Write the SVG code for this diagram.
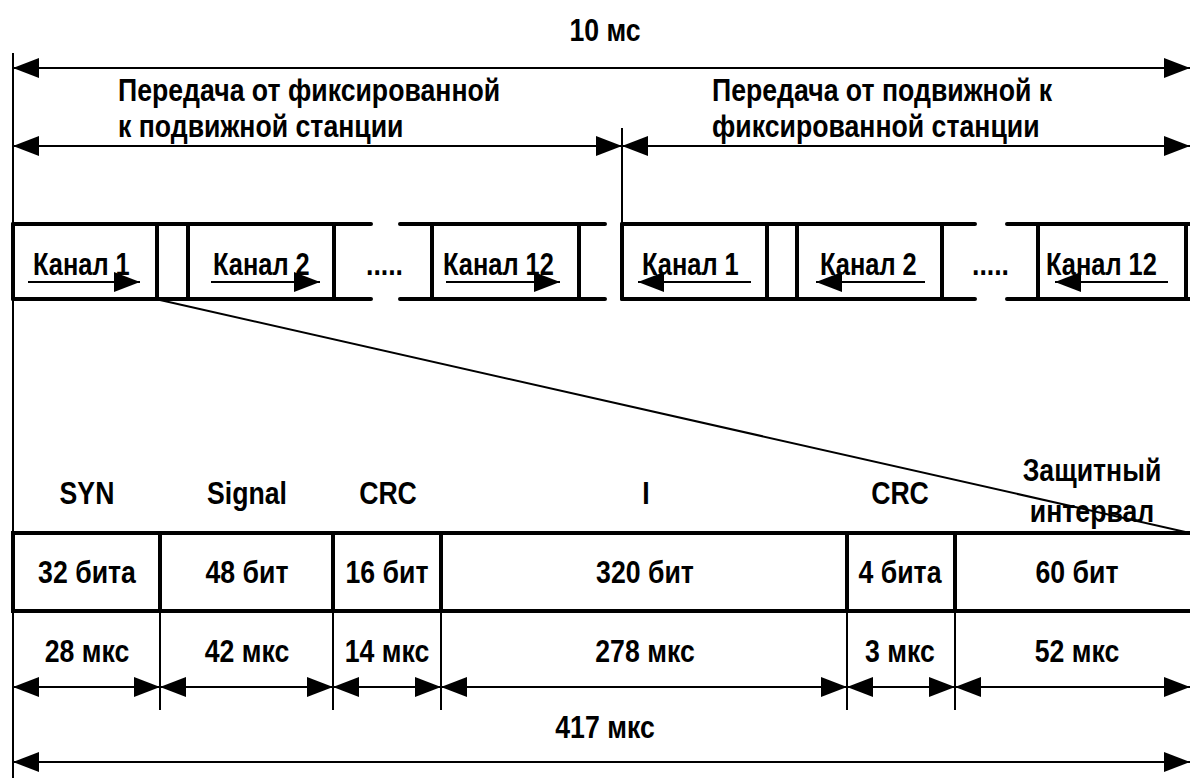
<svg xmlns="http://www.w3.org/2000/svg" width="1190" height="778" viewBox="0 0 1190 778">
<style>
text{font-family:"Liberation Sans",Arial,sans-serif;font-weight:bold;font-size:31px;fill:#000}
.m{text-anchor:middle}
.thin{stroke:#000;stroke-width:2;fill:none}
.thick{stroke:#000;stroke-width:4;fill:none;stroke-linecap:round}
.arr{stroke:#000;stroke-width:2;fill:none;marker-start:url(#ah);marker-end:url(#ah)}
.arr1{stroke:#000;stroke-width:2;fill:none;marker-end:url(#ah)}
</style>
<defs>
<marker id="ah" markerUnits="userSpaceOnUse" markerWidth="26" markerHeight="20" refX="26" refY="10" orient="auto-start-reverse" viewBox="0 0 26 20">
<path d="M0,0 L26,10 L0,20 Z" fill="#000"/>
</marker>
</defs>
<rect width="1190" height="778" fill="#fff"/>

<g id="connectors">
<line class="thin" x1="13" y1="53" x2="13" y2="778"/>
<line class="arr" x1="13" y1="68" x2="1190" y2="68"/>
<line class="arr" x1="13" y1="146" x2="622" y2="146"/>
<line class="arr" x1="622" y1="146" x2="1190" y2="146"/>
<line class="thin" x1="622" y1="128" x2="622" y2="224"/>
<line class="thin" x1="160" y1="300" x2="1190" y2="533"/>
<line class="arr" x1="13" y1="687" x2="160" y2="687"/>
<line class="arr" x1="160" y1="687" x2="333" y2="687"/>
<line class="arr" x1="333" y1="687" x2="441" y2="687"/>
<line class="arr" x1="441" y1="687" x2="847" y2="687"/>
<line class="arr" x1="847" y1="687" x2="955" y2="687"/>
<line class="arr" x1="955" y1="687" x2="1190" y2="687"/>
<line class="arr" x1="13" y1="762" x2="1190" y2="762"/>
</g>

<g id="labels-top">
<text class="m" transform="translate(605 41) scale(0.86 1)">10 мс</text>
<text transform="translate(118 101) scale(0.86 1)">Передача от фиксированной</text>
<text transform="translate(118 137) scale(0.86 1)">к подвижной станции</text>
<text transform="translate(712 101) scale(0.86 1)">Передача от подвижной к</text>
<text transform="translate(712 137) scale(0.86 1)">фиксированной станции</text>
</g>

<g id="frame-forward">
<path class="thick" d="M13,224 H371 M13,299 H371 M400,224 H605 M400,299 H605"/>
<path class="thick" d="M13,224 V299 M157,224 V299 M188,224 V299 M334,224 V299 M432,224 V299 M579,224 V299"/>
<g id="fwd-ch1">
<text transform="translate(33 275) scale(0.82 1)">Канал 1</text>
<line class="arr1" x1="28" y1="282" x2="140" y2="282"/>
</g>
<g id="fwd-ch2">
<text transform="translate(213 275) scale(0.82 1)">Канал 2</text>
<line class="arr1" x1="211" y1="282" x2="320" y2="282"/>
</g>
<text transform="translate(366 275) scale(0.86 1)">.....</text>
<g id="fwd-ch12">
<text transform="translate(443 275) scale(0.82 1)">Канал 12</text>
<line class="arr1" x1="446" y1="282" x2="560" y2="282"/>
</g>
</g>

<g id="frame-reverse">
<path class="thick" d="M622,224 H975 M622,299 H975 M1007,224 H1190 M1007,299 H1190"/>
<path class="thick" d="M622,224 V299 M767,224 V299 M797,224 V299 M942,224 V299 M1038,224 V299 M1186,224 V299"/>
<g id="rev-ch1">
<text transform="translate(642 275) scale(0.82 1)">Канал 1</text>
<line class="arr1" x1="751" y1="282" x2="638" y2="282"/>
</g>
<g id="rev-ch2">
<text transform="translate(820 275) scale(0.82 1)">Канал 2</text>
<line class="arr1" x1="925" y1="282" x2="816" y2="282"/>
</g>
<text transform="translate(972 275) scale(0.86 1)">.....</text>
<g id="rev-ch12">
<text transform="translate(1046 275) scale(0.82 1)">Канал 12</text>
<line class="arr1" x1="1168" y1="282" x2="1055" y2="282"/>
</g>
</g>

<g id="slot-table">
<path class="thick" style="stroke-linecap:butt" d="M11,533 H1190 M11,611 H1190 M13,533 V611 M160,533 V611 M333,533 V611 M441,533 V611 M847,533 V611 M955,533 V611"/>
<path class="thin" d="M160,611 V710 M333,611 V710 M441,611 V710 M847,611 V710 M955,611 V710"/>
<text class="m" transform="translate(87 504) scale(0.86 1)">SYN</text>
<text class="m" transform="translate(247 504) scale(0.86 1)">Signal</text>
<text class="m" transform="translate(388 504) scale(0.86 1)">CRC</text>
<text class="m" transform="translate(646 504) scale(0.86 1)">I</text>
<text class="m" transform="translate(900 504) scale(0.86 1)">CRC</text>
<text class="m" transform="translate(1092 481) scale(0.86 1)">Защитный</text>
<text class="m" transform="translate(1092 522) scale(0.86 1)">интервал</text>
<text class="m" transform="translate(87 583) scale(0.86 1)">32 бита</text>
<text class="m" transform="translate(247 583) scale(0.86 1)">48 бит</text>
<text class="m" transform="translate(387 583) scale(0.86 1)">16 бит</text>
<text class="m" transform="translate(645 583) scale(0.86 1)">320 бит</text>
<text class="m" transform="translate(900 583) scale(0.86 1)">4 бита</text>
<text class="m" transform="translate(1077 583) scale(0.86 1)">60 бит</text>
<text class="m" transform="translate(87 662) scale(0.86 1)">28 мкс</text>
<text class="m" transform="translate(247 662) scale(0.86 1)">42 мкс</text>
<text class="m" transform="translate(387 662) scale(0.86 1)">14 мкс</text>
<text class="m" transform="translate(645 662) scale(0.86 1)">278 мкс</text>
<text class="m" transform="translate(900 662) scale(0.86 1)">3 мкс</text>
<text class="m" transform="translate(1077 662) scale(0.86 1)">52 мкс</text>
<text class="m" transform="translate(605 738) scale(0.86 1)">417 мкс</text>
</g>
</svg>
